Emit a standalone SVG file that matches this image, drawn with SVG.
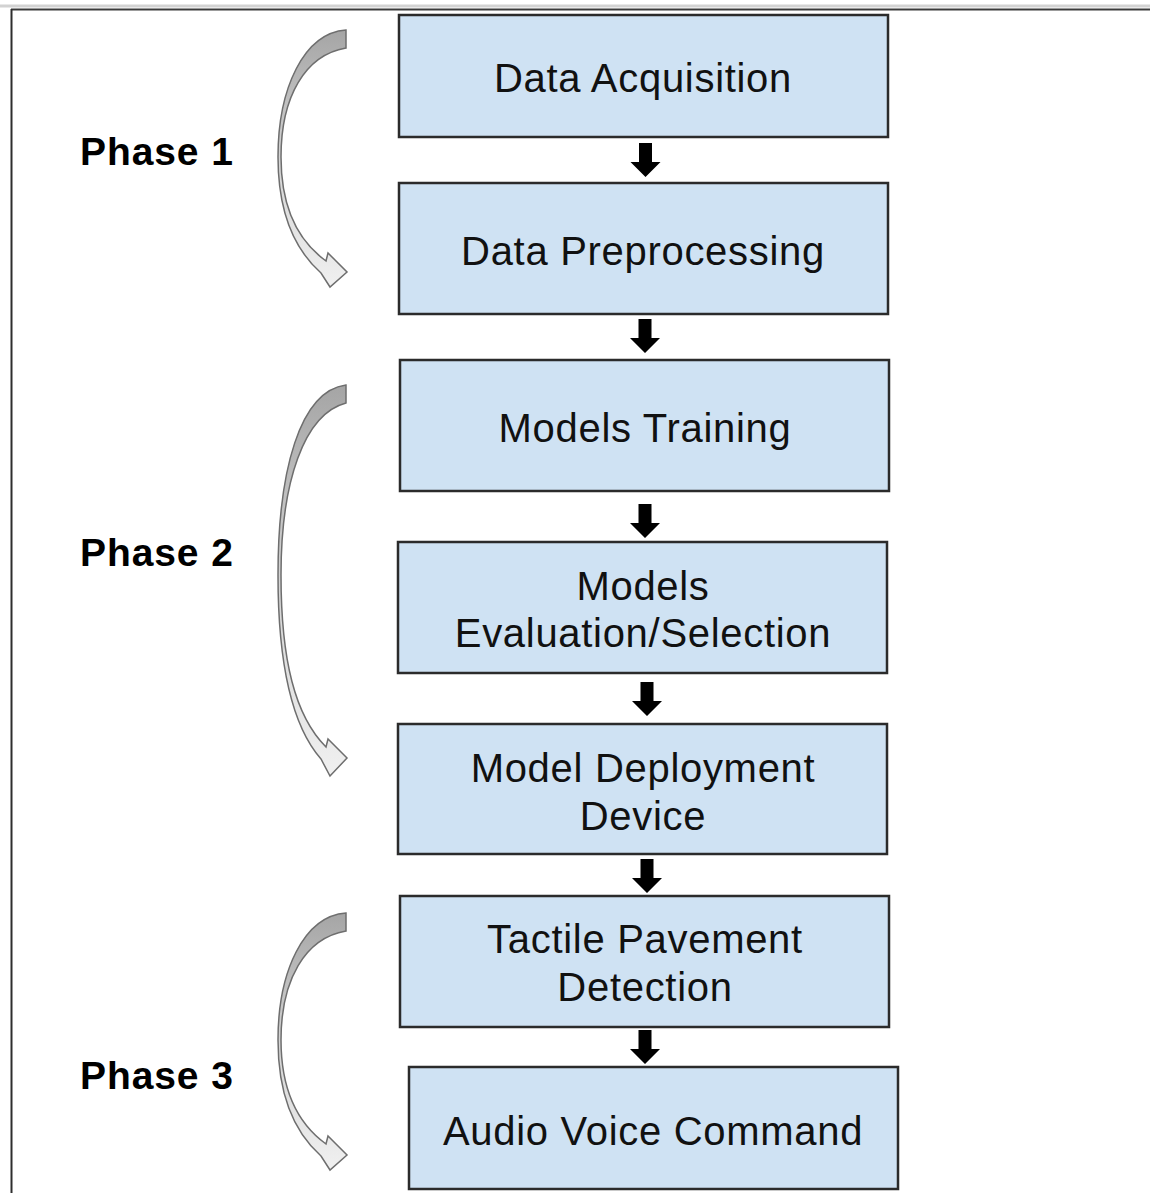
<svg xmlns="http://www.w3.org/2000/svg" xmlns:xlink="http://www.w3.org/1999/xlink" width="1150" height="1193" viewBox="0 0 1150 1193">
  <style>
    .box { fill: #cfe2f3; stroke: #2b2b2b; stroke-width: 2.5; }
    .label { font-family: "Liberation Sans", Arial, sans-serif; font-size: 40px; letter-spacing: 0.7px; fill: #111; text-anchor: middle; }
    .phase { font-family: "Liberation Sans", Arial, sans-serif; font-size: 39px; letter-spacing: 0.9px; font-weight: bold; fill: #000; }
    .curve { fill: url(#curveFill); stroke: #6e6e6e; stroke-width: 1.5; stroke-linejoin: miter; }
    .down { fill: #000; }
  </style>
  <defs>
    <linearGradient id="curveFill" x1="0" y1="0" x2="0" y2="1">
      <stop offset="0" stop-color="#a5a5a5"/>
      <stop offset="0.5" stop-color="#d4d4d4"/>
      <stop offset="1" stop-color="#f0f0f0"/>
    </linearGradient>
    <!-- small block arrow, tip at origin -->
    <path id="downArrow" d="M -6.5,-34 L 6.5,-34 L 6.5,-15 L 15,-15 L 0,0 L -15,-15 L -6.5,-15 Z"/>
  </defs>

  <rect x="0" y="0" width="1150" height="1193" fill="#fff"/>

  <!-- page frame -->
  <g id="frame">
    <line x1="0" y1="6" x2="1150" y2="6" stroke="#d2d2d2" stroke-width="3"/>
    <line x1="11" y1="9.5" x2="1150" y2="9.5" stroke="#3a3a3a" stroke-width="2"/>
    <line x1="11.5" y1="9" x2="11.5" y2="1193" stroke="#2e2e2e" stroke-width="2"/>
  </g>

  <!-- phase brackets -->
  <g id="phase1">
    <path class="curve" d="M 346,30 C 304,33 278,88 278,157 C 278,210 294,249 321,273 L 330,287 L 347,272 L 328,253 L 326,261 C 297,240 281,205 281,157 C 281,97 305,55 346,48 Z"/>
    <text class="phase" x="80" y="165">Phase 1</text>
  </g>
  <g id="phase2">
    <path class="curve" d="M 346,385 C 300,391 278,470 278,575 C 278,662 292,726 321,759 L 330,776 L 347,758 L 328,739 L 326,747 C 295,716 281,660 281,575 C 281,482 304,414 346,403 Z"/>
    <text class="phase" x="80" y="566">Phase 2</text>
  </g>
  <g id="phase3">
    <path class="curve" d="M 346,913 C 304,916 278,971 278,1040 C 278,1093 294,1132 321,1156 L 330,1170 L 347,1155 L 328,1136 L 326,1144 C 297,1123 281,1088 281,1040 C 281,980 305,938 346,931 Z"/>
    <text class="phase" x="80" y="1089">Phase 3</text>
  </g>

  <!-- process steps -->
  <g id="node-acquisition">
    <rect class="box" x="399" y="15" width="489" height="122"/>
    <text class="label" x="643" y="92">Data Acquisition</text>
  </g>
  <g id="node-preprocessing">
    <rect class="box" x="399" y="183" width="489" height="131"/>
    <text class="label" x="643" y="265">Data Preprocessing</text>
  </g>
  <g id="node-training">
    <rect class="box" x="400" y="360" width="489" height="131"/>
    <text class="label" x="645" y="442">Models Training</text>
  </g>
  <g id="node-evaluation">
    <rect class="box" x="398" y="542" width="489" height="131"/>
    <text class="label" x="643" y="600">Models</text>
    <text class="label" x="643" y="647">Evaluation/Selection</text>
  </g>
  <g id="node-deployment">
    <rect class="box" x="398" y="724" width="489" height="130"/>
    <text class="label" x="643" y="782">Model Deployment</text>
    <text class="label" x="643" y="830">Device</text>
  </g>
  <g id="node-detection">
    <rect class="box" x="400" y="896" width="489" height="131"/>
    <text class="label" x="645" y="953">Tactile Pavement</text>
    <text class="label" x="645" y="1001">Detection</text>
  </g>
  <g id="node-voice">
    <rect class="box" x="409" y="1067" width="489" height="122"/>
    <text class="label" x="653" y="1145">Audio Voice Command</text>
  </g>

  <!-- step connectors -->
  <g id="connectors" class="down">
    <use xlink:href="#downArrow" x="645.5" y="177"/>
    <use xlink:href="#downArrow" x="645" y="353"/>
    <use xlink:href="#downArrow" x="645" y="538"/>
    <use xlink:href="#downArrow" x="647" y="716"/>
    <use xlink:href="#downArrow" x="647" y="893"/>
    <use xlink:href="#downArrow" x="645" y="1064"/>
  </g>
</svg>
